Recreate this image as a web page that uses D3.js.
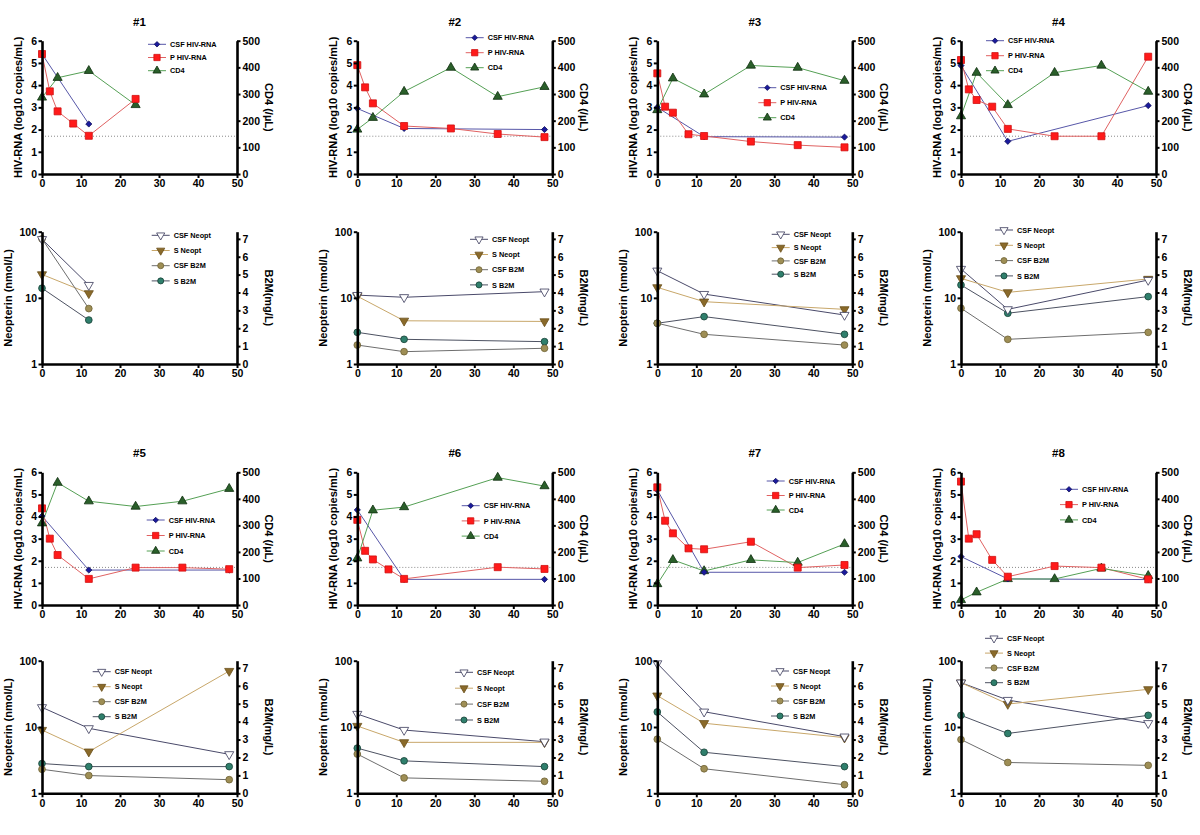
<!DOCTYPE html>
<html><head><meta charset="utf-8">
<script src="https://cdn.jsdelivr.net/npm/d3@7"></script>
<style>
body{margin:0;background:#fff;}
svg{display:block;font-family:"Liberation Sans",Arial,Helvetica,sans-serif;}
</style></head><body>
<svg id="chart" width="1200" height="835"></svg>
<script>
// ---------------- DATA ----------------
const patients = ["#1","#2","#3","#4","#5","#6","#7","#8"];
const weekTicks = [0,10,20,30,40,50];
const rnaTicks = [0,1,2,3,4,5,6];
const cd4Ticks = [0,100,200,300,400,500];
const neoptTicks = [1,10,100];
const b2mTicks = [0,1,2,3,4,5,6,7];
const detectionLimit = 1.7; // log10(50 copies/mL)

// [week, log10 copies/mL]
const csfHivRna = [
  [[0,5.4],[12,2.25]],
  [[0,2.95],[12,2.05],[48,2.0]],
  [[0,3.0],[12,1.68],[48,1.66]],
  [[0,4.88],[12,1.47],[48,3.08]],
  [[0,4.02],[12,1.58],[48,1.58]],
  [[0,4.3],[12,1.16],[48,1.16]],
  [[0,5.2],[12,1.48],[48,1.48]],
  [[0,2.19],[12,1.18],[48,1.15]]
];
const pHivRna = [
  [[0,5.4],[2,3.72],[4,2.82],[8,2.27],[12,1.72],[24,3.38]],
  [[0,4.9],[2,3.9],[4,3.18],[12,2.16],[24,2.05],[36,1.8],[48,1.66]],
  [[0,4.53],[2,3.03],[4,2.76],[8,1.79],[12,1.71],[24,1.46],[36,1.3],[48,1.2]],
  [[0,5.13],[2,3.81],[4,3.33],[8,3.03],[12,2.03],[24,1.7],[36,1.7],[48,5.28]],
  [[0,4.37],[2,3.0],[4,2.26],[12,1.18],[24,1.69],[36,1.69],[48,1.62]],
  [[0,3.85],[2,2.45],[4,2.06],[8,1.61],[12,1.18],[36,1.71],[48,1.63]],
  [[0,5.32],[2,3.81],[4,3.24],[8,2.56],[12,2.52],[24,2.86],[36,1.69],[48,1.81]],
  [[0,5.58],[2,3.0],[4,3.2],[8,2.04],[12,1.28],[24,1.76],[36,1.69],[48,1.16]]
];
// [week, cells/µL]
const cd4 = [
  [[0,287],[4,361],[12,387],[24,259]],
  [[0,167],[4,211],[12,309],[24,399],[36,290],[48,327]],
  [[0,240],[4,359],[12,299],[24,407],[36,399],[48,350]],
  [[0,217],[4,380],[12,259],[24,380],[36,407],[48,309]],
  [[0,308],[4,461],[12,391],[24,371],[36,391],[48,438]],
  [[0,176],[4,357],[12,369],[36,480],[48,448]],
  [[0,79],[4,170],[12,128],[24,170],[36,160],[48,230]],
  [[0,19],[4,48],[12,98],[24,98],[36,138],[48,110]]
];
// [week, nmol/L]
const csfNeopt = [
  [[0,77],[12,15.6]],
  [[0,11.0],[12,10.2],[48,12.4]],
  [[0,25.7],[12,11.4],[48,5.5]],
  [[0,27.3],[12,6.7],[48,18.6]],
  [[0,19.8],[12,9.55],[48,3.87]],
  [[0,15.7],[12,9.0],[48,6.0]],
  [[0,91],[12,17],[48,7.15]],
  [[0,46.6],[12,25.5],[48,11.4]]
];
const sNeopt = [
  [[0,22.6],[12,11.7]],
  [[0,10.6],[12,4.5],[48,4.4]],
  [[0,14.4],[12,8.75],[48,6.7]],
  [[0,19.7],[12,12.1],[48,19.3]],
  [[0,9.0],[12,4.25],[48,69.8]],
  [[0,10.35],[12,5.87],[48,5.87]],
  [[0,29.7],[12,11.4],[48,6.9]],
  [[0,46.6],[12,22.2],[48,37]]
];
// [week, mg/L]
const csfB2m = [
  [[0,7.0],[12,3.1]],
  [[0,1.06],[12,0.69],[48,0.88]],
  [[0,2.28],[12,1.66],[48,1.06]],
  [[0,3.12],[12,1.38],[48,1.77]],
  [[0,1.34],[12,0.99],[48,0.76]],
  [[0,2.19],[12,0.86],[48,0.67]],
  [[0,3.02],[12,1.37],[48,0.48]],
  [[0,3.0],[12,1.72],[48,1.56]]
];
const sB2m = [
  [[0,4.24],[12,2.46]],
  [[0,1.77],[12,1.38],[48,1.25]],
  [[0,2.28],[12,2.65],[48,1.66]],
  [[0,4.42],[12,2.84],[48,3.77]],
  [[0,1.66],[12,1.49],[48,1.49]],
  [[0,2.52],[12,1.81],[48,1.49]],
  [[0,4.54],[12,2.29],[48,1.49]],
  [[0,4.35],[12,3.34],[48,4.35]]
];

// ---------------- LAYOUT ----------------
const colX = [42, 357.3, 657.3, 961];
const plotW = 195;
const topY = [[40.7,174],[472.3,605]];
const botY = [[231.7,364],[660.7,793.3]];
const titleY = [25.5, 457];
const legTop = [[148,44.3,13.2],[465.7,37.7,15],[758.3,87.7,15],[986,40.7,15],
                [146.7,520,15.5],[461.7,505.7,15.2],[766.7,481,14.5],[1060,489.3,15.3]];
const legBot = [[151.7,235.3,15.2],[470,239.3,15.2],[771.7,234.3,13.3],[995,230,15.3],
                [92.7,671.7,15],[455,672.3,15.9],[771,671,15],[985,638.3,14.8]];

const styles = {
  csfRna:  {name:"CSF HIV-RNA", sym:d3.symbolDiamond2, size:24, fill:"#1a1a9c", stroke:"#10105a", line:"#5757a8", rot:0},
  pRna:    {name:"P HIV-RNA",   sym:d3.symbolSquare,   size:49, fill:"#ff1a1a", stroke:"#d01010", line:"#e06262", rot:0},
  cd4:     {name:"CD4",         sym:d3.symbolTriangle, size:36, fill:"#2a5f2a", stroke:"#0f2f0f", line:"#55a055", rot:0},
  csfNeo:  {name:"CSF Neopt",   sym:d3.symbolTriangle, size:36, fill:"#ffffff", stroke:"#3a3a5a", line:"#4a4a6a", rot:180},
  sNeo:    {name:"S Neopt",     sym:d3.symbolTriangle, size:36, fill:"#8a6a2a", stroke:"#6a4f1a", line:"#c8a76a", rot:180},
  csfB2m:  {name:"CSF B2M",     sym:d3.symbolCircle,   size:36, fill:"#9e8e55", stroke:"#6f6235", line:"#6e6e6e", rot:0},
  sB2m:    {name:"S B2M",       sym:d3.symbolCircle,   size:36, fill:"#2f7f6c", stroke:"#163f35", line:"#4d5262", rot:0}
};

const svg = d3.select("#chart");
const FONT = '"Liberation Sans",Arial,Helvetica,sans-serif';
const intFmt = d3.format("d");

function styleAxis(g){
  g.select(".domain").attr("stroke","#000").attr("stroke-width",2.6);
  g.selectAll(".tick line").attr("stroke","#000").attr("stroke-width",2);
  g.selectAll(".tick text").attr("font-size",10.5).attr("font-weight","bold")
    .attr("fill","#000").attr("font-family",FONT);
}

function drawSeries(g, data, st, x, y){
  g.append("path").datum(data)
    .attr("fill","none").attr("stroke",st.line).attr("stroke-width",1)
    .attr("d", d3.line().x(d=>x(d[0])).y(d=>y(d[1])));
}
function drawMarkers(g, data, st, x, y){
  g.selectAll(null).data(data).enter().append("path")
    .attr("d", d3.symbol().type(st.sym).size(st.size)())
    .attr("transform", d=>`translate(${x(d[0])},${y(d[1])}) rotate(${st.rot})`)
    .attr("fill",st.fill).attr("stroke",st.stroke).attr("stroke-width",0.8);
}
function drawLegend(g, items, x0, y0, dy){
  items.forEach((st,i)=>{
    const yy = y0 + i*dy;
    g.append("line").attr("x1",x0).attr("x2",x0+18).attr("y1",yy).attr("y2",yy)
      .attr("stroke",st.line).attr("stroke-width",1);
    g.append("path").attr("d", d3.symbol().type(st.sym).size(st.size*0.8)())
      .attr("transform",`translate(${x0+9},${yy}) rotate(${st.rot})`)
      .attr("fill",st.fill).attr("stroke",st.stroke).attr("stroke-width",0.8);
    g.append("text").attr("x",x0+22).attr("y",yy+2.6).text(st.name)
      .attr("font-size",7.3).attr("font-weight","bold").attr("font-family",FONT).attr("fill","#000");
  });
}

patients.forEach((pid, i)=>{
  const row = Math.floor(i/4), col = i%4;
  const x0 = colX[col], x1 = x0 + plotW;
  const g = svg.append("g");

  // title
  g.append("text").attr("x",(x0+x1)/2).attr("y",titleY[row]).attr("text-anchor","middle")
    .attr("font-size",11.5).attr("font-weight","bold").attr("font-family",FONT).text(pid);

  // ---------- top panel ----------
  const [ty0, ty1] = topY[row];
  const x = d3.scaleLinear().domain([0,50]).range([x0,x1]);
  const yL = d3.scaleLinear().domain([0,6]).range([ty1,ty0]);
  const yR = d3.scaleLinear().domain([0,500]).range([ty1,ty0]);

  g.append("line").attr("x1",x0).attr("x2",x1).attr("y1",yL(detectionLimit)).attr("y2",yL(detectionLimit))
    .attr("stroke","#8a8a8a").attr("stroke-width",1).attr("stroke-dasharray","1,2");

  const lines = g.append("g"), marks = g.append("g");
  drawSeries(lines, csfHivRna[i], styles.csfRna, x, yL);
  drawSeries(lines, pHivRna[i], styles.pRna, x, yL);
  drawSeries(lines, cd4[i], styles.cd4, x, yR);
  drawMarkers(marks, cd4[i], styles.cd4, x, yR);
  drawMarkers(marks, csfHivRna[i], styles.csfRna, x, yL);
  drawMarkers(marks, pHivRna[i], styles.pRna, x, yL);

  g.append("g").attr("transform",`translate(0,${ty1})`)
    .call(d3.axisBottom(x).tickValues(weekTicks).tickFormat(intFmt).tickSize(4).tickSizeOuter(0).tickPadding(2)).call(styleAxis);
  g.append("g").attr("transform",`translate(${x0},0)`)
    .call(d3.axisLeft(yL).tickValues(rnaTicks).tickFormat(intFmt).tickSize(3.5).tickSizeOuter(0).tickPadding(1.5)).call(styleAxis);
  g.append("g").attr("transform",`translate(${x1},0)`)
    .call(d3.axisRight(yR).tickValues(cd4Ticks).tickFormat(intFmt).tickSize(3.5).tickSizeOuter(0).tickPadding(2)).call(styleAxis);

  g.append("text").attr("transform",`translate(${x0-20},${(ty0+ty1)/2}) rotate(-90)`)
    .attr("text-anchor","middle").attr("font-size",11).attr("font-weight","bold").attr("font-family",FONT)
    .text("HIV-RNA (log10 copies/mL)");
  g.append("text").attr("transform",`translate(${x1+28},${(ty0+ty1)/2}) rotate(90)`)
    .attr("text-anchor","middle").attr("font-size",11).attr("font-weight","bold").attr("font-family",FONT)
    .text("CD4 (/µL)");

  drawLegend(g, [styles.csfRna, styles.pRna, styles.cd4], ...legTop[i]);

  // ---------- bottom panel ----------
  const [by0, by1] = botY[row];
  const yN = d3.scaleLog().domain([1,100]).range([by1,by0]);
  const yB = d3.scaleLinear().domain([0,7.4]).range([by1,by0]);

  const lines2 = g.append("g"), marks2 = g.append("g");
  drawSeries(lines2, csfNeopt[i], styles.csfNeo, x, yN);
  drawSeries(lines2, sNeopt[i], styles.sNeo, x, yN);
  drawSeries(lines2, csfB2m[i], styles.csfB2m, x, yB);
  drawSeries(lines2, sB2m[i], styles.sB2m, x, yB);
  drawMarkers(marks2, sB2m[i], styles.sB2m, x, yB);
  drawMarkers(marks2, csfB2m[i], styles.csfB2m, x, yB);
  drawMarkers(marks2, sNeopt[i], styles.sNeo, x, yN);
  drawMarkers(marks2, csfNeopt[i], styles.csfNeo, x, yN);

  g.append("g").attr("transform",`translate(0,${by1})`)
    .call(d3.axisBottom(x).tickValues(weekTicks).tickFormat(intFmt).tickSize(4).tickSizeOuter(0).tickPadding(2)).call(styleAxis);
  g.append("g").attr("transform",`translate(${x0},0)`)
    .call(d3.axisLeft(yN).tickValues(neoptTicks).tickFormat(intFmt).tickSize(3.5).tickSizeOuter(0).tickPadding(1.5)).call(styleAxis);
  g.append("g").attr("transform",`translate(${x1},0)`)
    .call(d3.axisRight(yB).tickValues(b2mTicks).tickFormat(intFmt).tickSize(3.5).tickSizeOuter(0).tickPadding(2)).call(styleAxis);

  g.append("text").attr("transform",`translate(${x0-30},${(by0+by1)/2}) rotate(-90)`)
    .attr("text-anchor","middle").attr("font-size",11).attr("font-weight","bold").attr("font-family",FONT)
    .text("Neopterin (nmol/L)");
  g.append("text").attr("transform",`translate(${x1+28},${(by0+by1)/2}) rotate(90)`)
    .attr("text-anchor","middle").attr("font-size",11).attr("font-weight","bold").attr("font-family",FONT)
    .text("B2M(mg/L)");

  drawLegend(g, [styles.csfNeo, styles.sNeo, styles.csfB2m, styles.sB2m], ...legBot[i]);
});
</script>
</body></html>
